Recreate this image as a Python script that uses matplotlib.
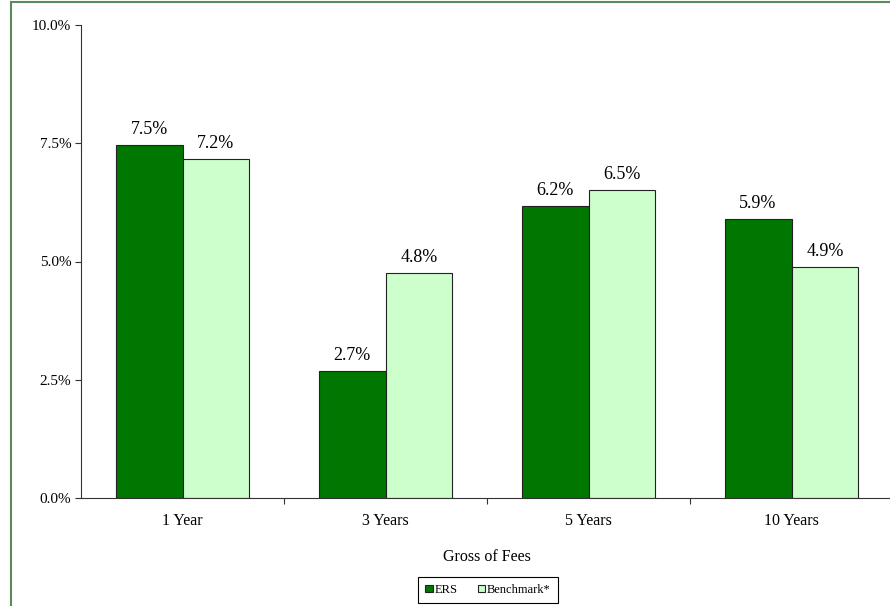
import matplotlib
matplotlib.use("Agg")
import matplotlib.pyplot as plt
import numpy as np
from matplotlib.patches import Rectangle
from matplotlib.ticker import PercentFormatter, FixedLocator

plt.rcParams['font.family'] = ['Liberation Serif', 'DejaVu Serif']

periods = ["1 Year", "3 Years", "5 Years", "10 Years"]
ers = [7.46, 2.68, 6.17, 5.90]
benchmark = [7.17, 4.76, 6.51, 4.88]
series_names = ["ERS", "Benchmark*"]

ers_color = "#007700"
bench_color = "#ccffcc"

fig = plt.figure(figsize=(8.9, 6.06), dpi=100)
ax = fig.add_axes([81 / 890, 1 - 498 / 606, 812 / 890, 473 / 606])

x = np.arange(len(periods))
w = 0.33
b1 = ax.bar(x - w / 2, ers, w, color=ers_color, edgecolor="#222222", linewidth=0.8, label=series_names[0])
b2 = ax.bar(x + w / 2, benchmark, w, color=bench_color, edgecolor="#222222", linewidth=0.8, label=series_names[1])

for bars in (b1, b2):
    for bar in bars:
        h = bar.get_height()
        ax.annotate(f"{h:.1f}%", (bar.get_x() + bar.get_width() / 2, h),
                    xytext=(0, 5), textcoords="offset points",
                    ha="center", va="bottom", fontsize=13)

ax.set_xlim(-0.5, 3.5)
ax.set_ylim(0, 10)
ax.set_yticks([0, 2.5, 5, 7.5, 10])
ax.yaxis.set_major_formatter(PercentFormatter(decimals=1))
ax.tick_params(axis="y", labelsize=11, length=4, width=0.8, color="#333333", pad=3)

# boundaries get ticks, centres get labels
ax.xaxis.set_major_locator(FixedLocator([0.5, 1.5, 2.5]))
ax.xaxis.set_minor_locator(FixedLocator(x))
ax.set_xticklabels([], minor=False)
ax.set_xticklabels(periods, minor=True)
ax.tick_params(axis="x", which="major", length=4, width=0.8, color="#333333")
ax.tick_params(axis="x", which="minor", length=0, labelsize=11.5, pad=11)
ax.set_xlabel("Gross of Fees", fontsize=11.5, labelpad=14)

for s in ["top", "right"]:
    ax.spines[s].set_visible(False)
for s in ["left", "bottom"]:
    ax.spines[s].set_color("#333333")
    ax.spines[s].set_linewidth(0.8)

leg = fig.legend(loc="lower center", bbox_to_anchor=(488 / 890, 2 / 606), ncol=2,
                 fontsize=9, handlelength=0.6, handleheight=0.6, handletextpad=0.15,
                 columnspacing=1.6, fancybox=False, edgecolor="black", framealpha=1,
                 borderpad=0.55, borderaxespad=0.1)
leg.get_frame().set_linewidth(0.8)

fig.patches.append(Rectangle((11 / 890, -0.1), 1.2, 1.1 - 2 / 606, transform=fig.transFigure,
                             fill=False, edgecolor="#5b8a5b", linewidth=1.5))

fig.savefig("out.png", dpi=100)
